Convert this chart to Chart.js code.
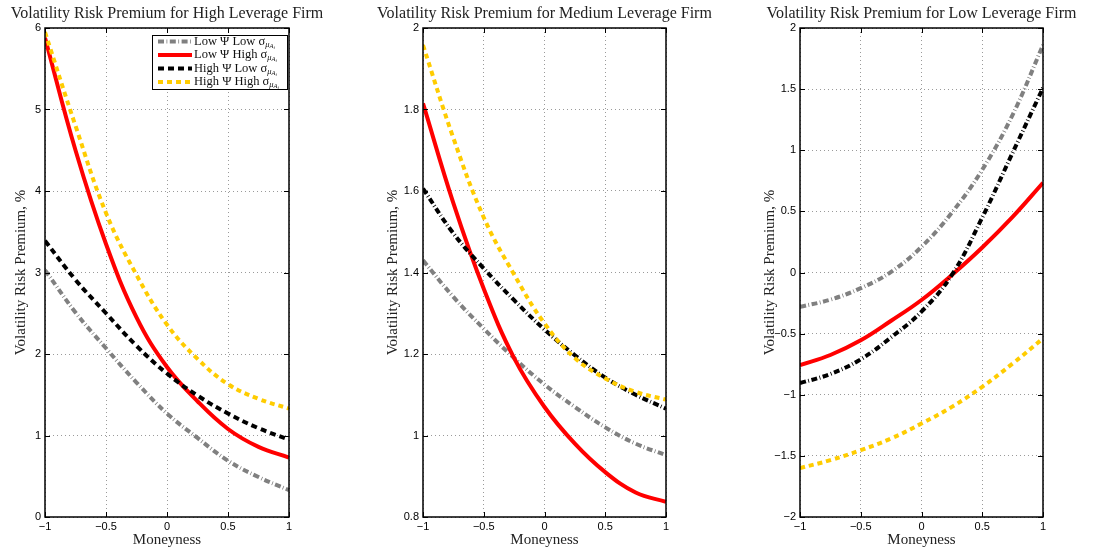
<!DOCTYPE html>
<html><head><meta charset="utf-8">
<script src="https://cdn.jsdelivr.net/npm/chart.js@4.4.1/dist/chart.umd.min.js"></script>
<style>
html,body{margin:0;padding:0;background:#fff;}
body{width:1095px;height:551px;position:relative;overflow:hidden;}
canvas{position:absolute;top:0;}
</style></head><body>
<canvas id="c1" width="372" height="551" style="left:0px"></canvas>
<canvas id="c2" width="378" height="551" style="left:372px"></canvas>
<canvas id="c3" width="345" height="551" style="left:750px"></canvas>
<script>
// ---- data ----
const moneyness = [-1, -0.75, -0.5, -0.25, 0, 0.25, 0.5, 0.75, 1];
const xTickValues = [-1, -0.5, 0, 0.5, 1];
const seriesNames = ['Low \u03A8 Low \u03C3', 'Low \u03A8 High \u03C3', 'High \u03A8 Low \u03C3', 'High \u03A8 High \u03C3'];
const panelTitles = ['Volatility Risk Premium for High Leverage Firm', 'Volatility Risk Premium for Medium Leverage Firm', 'Volatility Risk Premium for Low Leverage Firm'];
const xAxisLabel = 'Moneyness';
const yAxisLabel = 'Volatility Risk Premium, %';

// High leverage firm
const highLowPsiLowSig   = [3.03, 2.51, 2.07, 1.65, 1.27, 0.97, 0.69, 0.49, 0.33];
const highLowPsiHighSig  = [5.88, 4.50, 3.35, 2.45, 1.84, 1.42, 1.08, 0.86, 0.73];
const highHighPsiLowSig  = [3.39, 2.91, 2.50, 2.10, 1.76, 1.49, 1.27, 1.09, 0.95];
const highHighPsiHighSig = [5.95, 4.80, 3.73, 2.97, 2.36, 1.94, 1.63, 1.45, 1.33];
const yTicksHigh = [0, 1, 2, 3, 4, 5, 6];

// Medium leverage firm
const medLowPsiLowSig   = [1.430, 1.340, 1.262, 1.190, 1.125, 1.070, 1.020, 0.980, 0.952];
const medLowPsiHighSig  = [1.815, 1.570, 1.360, 1.190, 1.070, 0.980, 0.910, 0.860, 0.837];
const medHighPsiLowSig  = [1.606, 1.496, 1.410, 1.332, 1.260, 1.197, 1.142, 1.100, 1.066];
const medHighPsiHighSig = [1.958, 1.730, 1.535, 1.395, 1.275, 1.190, 1.140, 1.107, 1.088];
const yTicksMed = [0.8, 1, 1.2, 1.4, 1.6, 1.8, 2];

// Low leverage firm
const lowLowPsiLowSig   = [-0.281, -0.222, -0.128, 0.005, 0.210, 0.490, 0.840, 1.290, 1.860];
const lowLowPsiHighSig  = [-0.758, -0.675, -0.555, -0.395, -0.225, -0.020, 0.205, 0.455, 0.734];
const lowHighPsiLowSig  = [-0.905, -0.830, -0.710, -0.530, -0.320, -0.020, 0.450, 0.980, 1.510];
const lowHighPsiHighSig = [-1.600, -1.535, -1.453, -1.358, -1.235, -1.099, -0.935, -0.745, -0.540];
const yTicksLow = [-2, -1.5, -1, -0.5, 0, 0.5, 1, 1.5, 2];

// ---- styles ----
const colors = ['#808080', '#ff0000', '#000000', '#ffcc00'];
const dashDot = [6, 2.5, 0.8, 2.5];

function fmt(v) {
  const s = String(Math.round(v * 100) / 100);
  return s.replace('-', '\u2212');
}

const framePlugin = {
  id: 'frame',
  afterDraw(chart, args, opts) {
    const ctx = chart.ctx;
    const {left, right, top, bottom} = chart.chartArea;
    const xs = chart.scales.x, ys = chart.scales.y;
    ctx.save();
    ctx.strokeStyle = '#000';
    ctx.lineWidth = 1;
    ctx.beginPath();
    xs.ticks.forEach(t => {
      const p = Math.round(xs.getPixelForValue(t.value)) + 0.5;
      ctx.moveTo(p, bottom); ctx.lineTo(p, bottom - 5);
      ctx.moveTo(p, top); ctx.lineTo(p, top + 5);
    });
    ys.ticks.forEach(t => {
      const p = Math.round(ys.getPixelForValue(t.value)) + 0.5;
      ctx.moveTo(left, p); ctx.lineTo(left + 5, p);
      ctx.moveTo(right, p); ctx.lineTo(right - 5, p);
    });
    ctx.stroke();
    ctx.lineWidth = 1.5;
    ctx.strokeRect(left, top, right - left, bottom - top);
    // title
    ctx.font = '16px "Liberation Serif"';
    ctx.fillStyle = '#222';
    ctx.textAlign = 'center';
    ctx.textBaseline = 'middle';
    ctx.fillText(opts.title, (left + right) / 2, 14);
    // legend
    if (opts.legend) {
      const bx = 152, by = 35, bw = 135, bh = 54;
      ctx.fillStyle = '#fff';
      ctx.fillRect(bx, by, bw, bh);
      ctx.lineWidth = 1;
      ctx.strokeStyle = '#000';
      ctx.strokeRect(bx + 0.5, by + 0.5, bw, bh);
      const rows = [41.5, 55, 68.5, 82];
      chart.data.datasets.forEach((ds, i) => {
        const yy = rows[i];
        ctx.save();
        ctx.strokeStyle = ds.borderColor;
        ctx.lineWidth = 4;
        ctx.setLineDash(ds.borderDash || []);
        ctx.beginPath();
        ctx.moveTo(158, yy); ctx.lineTo(192, yy);
        ctx.stroke();
        ctx.restore();
        ctx.fillStyle = '#111';
        ctx.textAlign = 'left';
        ctx.textBaseline = 'middle';
        ctx.font = '12.5px "Liberation Serif"';
        let tx = 194;
        ctx.fillText(seriesNames[i], tx, yy);
        tx += ctx.measureText(seriesNames[i]).width;
        ctx.font = 'italic 8.5px "Liberation Serif"';
        ctx.fillText('\u03BC', tx, yy + 3);
        tx += ctx.measureText('\u03BC').width;
        ctx.font = 'italic 6.5px "Liberation Serif"';
        ctx.fillText('A', tx, yy + 4.5);
        tx += ctx.measureText('A').width;
        ctx.font = 'italic 5px "Liberation Serif"';
        ctx.fillText('i', tx, yy + 6);
      });
    }
    ctx.restore();
  }
};

function makeChart(id, title, series, yTicks, yWidth, rightPad, yTitlePad, blackDash, legend) {
  const styles = [
    {dash: dashDot, order: 4},
    {dash: [], order: 3},
    {dash: blackDash, order: 2},
    {dash: [5, 4], order: 1}
  ];
  const datasets = series.map((vals, i) => ({
    label: seriesNames[i],
    data: vals.map((v, k) => ({x: moneyness[k], y: v})),
    borderColor: colors[i],
    backgroundColor: colors[i],
    borderWidth: 4,
    borderDash: styles[i].dash,
    borderCapStyle: 'butt',
    pointRadius: 0,
    tension: 0.4,
    fill: false,
    order: styles[i].order
  }));
  const gridStyle = {color: '#9a9a9a', lineWidth: 1, drawTicks: false};
  return new Chart(document.getElementById(id), {
    type: 'line',
    data: {datasets},
    options: {
      responsive: false,
      animation: false,
      layout: {padding: {left: 0, right: rightPad, top: 28, bottom: 0}},
      plugins: {
        legend: {display: false},
        tooltip: {enabled: false},
        frame: {title, legend}
      },
      scales: {
        x: {
          type: 'linear', min: -1, max: 1,
          afterBuildTicks: s => { s.ticks = xTickValues.map(v => ({value: v})); },
          afterFit: s => { s.height = 34; },
          grid: Object.assign({}, gridStyle),
          border: {display: false, dash: [1, 3]},
          ticks: {autoSkip: false, maxRotation: 0, padding: 3, color: '#000',
                  font: {family: 'Liberation Sans', size: 11}, callback: v => fmt(v)},
          title: {display: true, text: xAxisLabel, color: '#222',
                  font: {family: 'Liberation Serif', size: 15}, padding: {top: 0, bottom: 2}}
        },
        y: {
          type: 'linear', min: yTicks[0], max: yTicks[yTicks.length - 1],
          afterBuildTicks: s => { s.ticks = yTicks.map(v => ({value: v})); },
          afterFit: s => { s.width = yWidth; },
          grid: Object.assign({}, gridStyle),
          border: {display: false, dash: [1, 3]},
          ticks: {autoSkip: false, padding: 4, color: '#000',
                  font: {family: 'Liberation Sans', size: 11}, callback: v => fmt(v)},
          title: {display: true, text: yAxisLabel, color: '#222',
                  font: {family: 'Liberation Serif', size: 15}, padding: {top: yTitlePad, bottom: 0}}
        }
      }
    },
    plugins: [framePlugin]
  });
}

makeChart('c1', panelTitles[0],
  [highLowPsiLowSig, highLowPsiHighSig, highHighPsiLowSig, highHighPsiHighSig],
  yTicksHigh, 45, 83, 12, [6, 4], true);
makeChart('c2', panelTitles[1],
  [medLowPsiLowSig, medLowPsiHighSig, medHighPsiLowSig, medHighPsiHighSig],
  yTicksMed, 51, 84, 12, dashDot, false);
makeChart('c3', panelTitles[2],
  [lowLowPsiLowSig, lowLowPsiHighSig, lowHighPsiLowSig, lowHighPsiHighSig],
  yTicksLow, 50, 52, 11, dashDot, false);
</script>
</body></html>
